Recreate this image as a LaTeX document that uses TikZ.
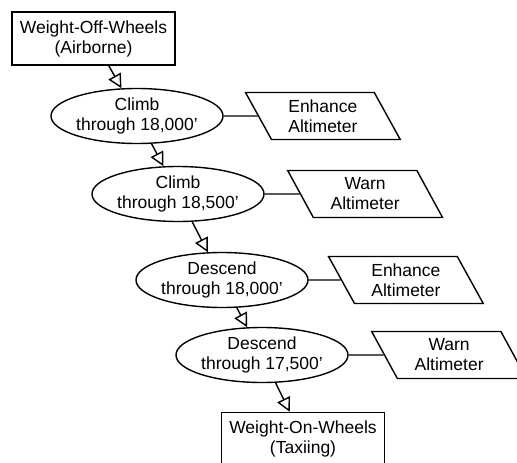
\documentclass[tikz,border=0pt]{standalone}
\usepackage{fontspec}
\setmainfont{Liberation Sans}
\usepackage{tikz}
\usetikzlibrary{arrows.meta,positioning,shapes.geometric}

\begin{document}
\begin{tikzpicture}[
		x=1pt, y=-1pt,
		line width=1.4pt,
		every node/.style={font=\fontsize{17.5}{20}\selectfont, align=center},
		statebox/.style={
			rectangle,
			draw,
			minimum width=163pt,
			minimum height=53pt,
			inner sep=0pt
		},
		phase/.style={
			ellipse,
			draw,
			minimum width=168pt,
			minimum height=55pt,
			inner sep=0pt
		},
		action/.style={
			trapezium,
			draw,
			trapezium left angle=118,
			trapezium right angle=62,
			trapezium stretches=true,
			minimum width=155pt,
			minimum height=47pt,
			inner sep=0pt
		},
		arrow/.style={
			-{Triangle[open,length=14pt,width=14pt,line width=1.4pt]},
			line width=1.4pt
		}
		]
		
		\useasboundingbox (0,0) rectangle (517,463);
		
		\node[statebox] (wow) at (93.5,38.5) {Weight-Off-Wheels\\(Airborne)};
		
		\node[phase] (climbA) at (137,116) {Climb\\through 18,000'};
		\node[phase] (climbB) at (178,194) {Climb\\through 18,500'};
		\node[phase] (descA) at (222,280) {Descend\\through 18,000'};
		\node[phase] (descB) at (262,355) {Descend\\through 17,500'};
		
		\node[statebox] (won) at (303,439) {Weight-On-Wheels\\(Taxiing)};
		
		\node[action, right=34pt of climbA] (enhA) {Enhance\\Altimeter};
		\node[action, right=35pt of climbB] (warnA) {Warn\\Altimeter};
		\node[action, right=32pt of descA] (enhB) {Enhance\\Altimeter};
		\node[action, right=35pt of descB] (warnB) {Warn\\Altimeter};
		
		\draw[arrow] (wow) -- (climbA);
		\draw[arrow] (climbA) -- (climbB);
		\draw[arrow] (climbB) -- (descA);
		\draw[arrow] (descA) -- (descB);
		\draw[arrow] (descB) -- (won);
		
		\draw (climbA) -- (enhA);
		\draw (climbB) -- (warnA);
		\draw (descA) -- (enhB);
		\draw (descB) -- (warnB);
		
	\end{tikzpicture}
\end{document}
